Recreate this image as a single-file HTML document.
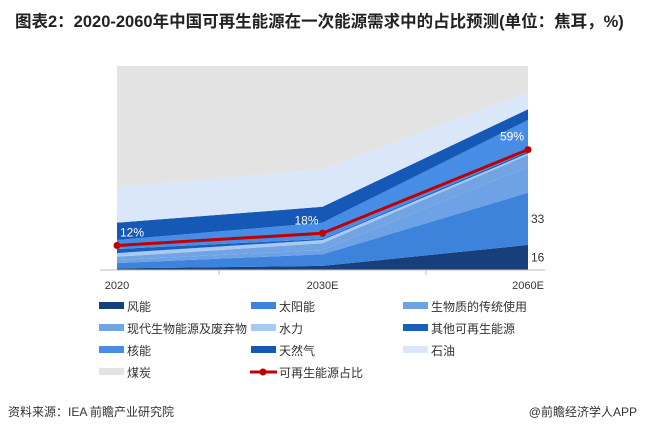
<!DOCTYPE html>
<html><head><meta charset="utf-8">
<style>
body{margin:0;background:#fff;width:645px;height:435px;overflow:hidden;font-family:"Liberation Sans","Noto Sans CJK SC",sans-serif;}
svg{position:absolute;left:0;top:0}
</style></head><body>
<svg id="c" width="645" height="435">
<text x="15" y="27" font-size="16.5" font-weight="bold" fill="#222">图表2：2020-2060年中国可再生能源在一次能源需求中的占比预测(单位：焦耳，%)</text>
<g id="areas"></g>
<line x1="100" y1="270" x2="545" y2="270" stroke="#bfbfbf"/>
<line x1="219" y1="270" x2="219" y2="275" stroke="#bfbfbf"/>
<line x1="426" y1="270" x2="426" y2="275" stroke="#bfbfbf"/>
<g id="xl"></g>
<g id="legend"></g>
<text x="8" y="416" font-size="12" fill="#333">资料来源：IEA 前瞻产业研究院</text>
<text x="637" y="416" font-size="12" fill="#333" text-anchor="end">@前瞻经济学人APP</text>
</svg>
<script>
const categories=["2020","2030E","2060E"];
const seriesNames=["风能","太阳能","生物质的传统使用","现代生物能源及废弃物","水力","其他可再生能源","核能","天然气","石油","煤炭"];
const wind=[0.8,2.0,12.3];
const solar=[2.6,5.7,25.6];
const tradBio=[1.5,2.1,12.7];
const modernBio=[1.6,3.3,5.8];
const hydro=[1.8,1.6,0.8];
const otherRen=[2.0,0.5,0.8];
const nuclear=[4.4,8.0,15.5];
const gas=[8.5,7.8,5.3];
const oil=[17.6,18.4,8.6];
const coal=[59.2,50.6,12.6];
const share=[12,18,59];
const shareLabels=["12%","18%","59%"];
const sideLabels=["33","16"];
const colors=["#173f7c","#3d83dc","#6ea2e6","#72a3e2","#a8c9f1","#1a5ebd","#478de6","#1658b6","#d9e7f8","#e3e3e3"];
const all=[wind,solar,tradBio,modernBio,hydro,otherRen,nuclear,gas,oil,coal];
const ns="http://www.w3.org/2000/svg";
const X0=117,X1=528,Y0=270,H=204;
function xs(i){return X0+i*(X1-X0)/(categories.length-1);}
function ys(v){return Y0-v/100*H;}
const g=document.getElementById('areas');
let cum=[0,0,0];
all.forEach((s,k)=>{
  const top=cum.map((c,i)=>c+s[i]);
  let pts=[];
  for(let i=0;i<3;i++)pts.push(xs(i)+","+ys(top[i]));
  for(let i=2;i>=0;i--)pts.push(xs(i)+","+ys(cum[i]));
  const p=document.createElementNS(ns,'polygon');
  p.setAttribute('points',pts.join(' '));
  p.setAttribute('fill',colors[k]);
  
  
  g.appendChild(p);
  cum=top;
});
const lab=[[(wind[2]+wind[2]+solar[2])/2, sideLabels[0]],[wind[2]/2, sideLabels[1]]];
lab.forEach(l=>{
  const t=document.createElementNS(ns,'text');
  t.setAttribute('x',531);t.setAttribute('y',ys(l[0])+4);
  t.setAttribute('font-size','12');t.setAttribute('fill','#333');
  t.textContent=l[1];
  
  
  g.appendChild(t);
});
const line=document.createElementNS(ns,'polyline');
line.setAttribute('points',share.map((v,i)=>xs(i)+","+ys(v)).join(' '));
line.setAttribute('fill','none');line.setAttribute('stroke','#c00000');line.setAttribute('stroke-width','3');


g.appendChild(line);
share.forEach((v,i)=>{
  const c=document.createElementNS(ns,'circle');
  c.setAttribute('cx',xs(i));c.setAttribute('cy',ys(v));c.setAttribute('r','3.5');c.setAttribute('fill','#c00000');
  
  
  g.appendChild(c);
  const t=document.createElementNS(ns,'text');
  t.setAttribute('x',i==0?xs(i)+3:xs(i)-4);t.setAttribute('y',ys(v)-9);
  t.setAttribute('text-anchor',i==0?'start':'end');
  t.setAttribute('font-size','12');t.setAttribute('fill','#fff');
  t.textContent=shareLabels[i];
  
  
  g.appendChild(t);
});
const xl=document.getElementById('xl');
categories.forEach((c,i)=>{
  const t=document.createElementNS(ns,'text');
  t.setAttribute('x',xs(i));t.setAttribute('y',289);t.setAttribute('text-anchor','middle');
  t.setAttribute('font-size','11');t.setAttribute('fill','#333');
  t.textContent=c;
  
  
  xl.appendChild(t);
});
const lg=document.getElementById('legend');
const colX=[99,251,403],rowY=[306,328,350,372];
seriesNames.forEach((n,k)=>{
  const x=colX[k%3],y=rowY[Math.floor(k/3)];
  const r=document.createElementNS(ns,'rect');
  r.setAttribute('x',x);r.setAttribute('y',y-4);r.setAttribute('width',25);r.setAttribute('height',7);r.setAttribute('fill',colors[k]);
  
  
  lg.appendChild(r);
  const t=document.createElementNS(ns,'text');
  t.setAttribute('x',x+28);t.setAttribute('y',y+5);t.setAttribute('font-size','12');t.setAttribute('fill','#333');
  t.textContent=n;
  
  
  lg.appendChild(t);
});
const ll=document.createElementNS(ns,'line');
ll.setAttribute('x1',250);ll.setAttribute('x2',277);ll.setAttribute('y1',372);ll.setAttribute('y2',372);ll.setAttribute('stroke','#c00000');ll.setAttribute('stroke-width','3');


lg.appendChild(ll);
const lc=document.createElementNS(ns,'circle');
lc.setAttribute('cx',263);lc.setAttribute('cy',372);lc.setAttribute('r',3.5);lc.setAttribute('fill','#c00000');


lg.appendChild(lc);
const lt=document.createElementNS(ns,'text');
lt.setAttribute('x',279);lt.setAttribute('y',377);lt.setAttribute('font-size','12');lt.setAttribute('fill','#333');
lt.textContent="可再生能源占比";


lg.appendChild(lt);
</script>
</body></html>
